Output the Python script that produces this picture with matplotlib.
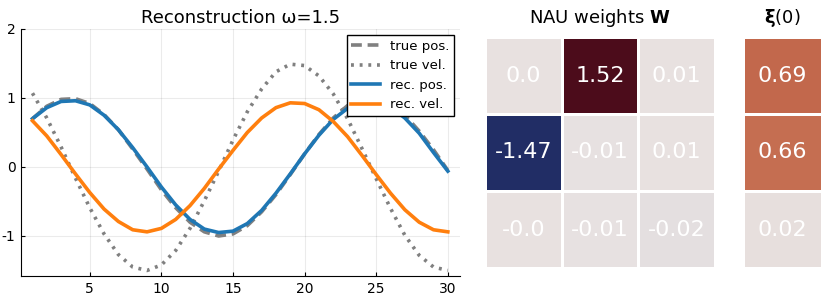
import matplotlib.pyplot as plt
import numpy as np
from matplotlib.colors import LinearSegmentedColormap, Normalize

plt.rcParams.update({"font.family": "DejaVu Sans", "font.size": 9, "axes.unicode_minus": False})

steps = list(range(1, 31))
true_pos = [0.70, 0.88, 0.98, 0.99, 0.92, 0.76, 0.54, 0.26, -0.03, -0.33,
            -0.59, -0.80, -0.94, -1.00, -0.97, -0.85, -0.65, -0.40, -0.11, 0.19,
            0.47, 0.71, 0.89, 0.98, 0.99, 0.91, 0.75, 0.52, 0.25, -0.05]
true_vel = [1.07, 0.71, 0.29, -0.16, -0.59, -0.97, -1.27, -1.45, -1.50, -1.42,
            -1.21, -0.89, -0.49, -0.06, 0.39, 0.80, 1.13, 1.38, 1.49, 1.47,
            1.32, 1.06, 0.70, 0.27, -0.17, -0.60, -0.99, -1.28, -1.45, -1.50]
rec_pos = [0.70, 0.86, 0.95, 0.96, 0.90, 0.75, 0.54, 0.28, 0.00, -0.29,
           -0.55, -0.76, -0.90, -0.95, -0.93, -0.82, -0.63, -0.38, -0.10, 0.19,
           0.46, 0.69, 0.85, 0.94, 0.95, 0.87, 0.71, 0.49, 0.21, -0.06]
rec_vel = [0.67, 0.45, 0.18, -0.10, -0.37, -0.61, -0.79, -0.91, -0.94, -0.89,
           -0.76, -0.56, -0.31, -0.03, 0.24, 0.50, 0.71, 0.86, 0.93, 0.92,
           0.83, 0.66, 0.44, 0.17, -0.11, -0.38, -0.62, -0.80, -0.91, -0.94]

W = [[0.0, 1.52, 0.01],
     [-1.47, -0.01, 0.01],
     [-0.0, -0.01, -0.02]]
W_labels = [["0.0", "1.52", "0.01"],
            ["-1.47", "-0.01", "0.01"],
            ["-0.0", "-0.01", "-0.02"]]
xi0 = [0.69, 0.66, 0.02]
xi0_labels = ["0.69", "0.66", "0.02"]

# rough stand-in for a "balance" diverging map
cmap = LinearSegmentedColormap.from_list(
    "balance",
    [(0.0, "#1f2960"), (0.25, "#3a62b0"), (0.5, "#e8e2e1"),
     (0.72, "#c56d4f"), (0.85, "#9a2a2a"), (1.0, "#4c0c1b")],
)
norm = Normalize(-1.52, 1.52)

fig = plt.figure(figsize=(8.3, 2.97), dpi=100)

ax = fig.add_axes([21 / 830, 1 - 276 / 297, 439 / 830, 247 / 297])
ax.plot(steps, true_pos, color="gray", linestyle=(0, (3, 1.6)), linewidth=2.6, label="true pos.")
ax.plot(steps, true_vel, color="gray", linestyle=(0, (0.8, 1.6)), linewidth=2.6, label="true vel.")
ax.plot(steps, rec_pos, color="#1f77b4", linewidth=2.6, label="rec. pos.")
ax.plot(steps, rec_vel, color="#ff7f0e", linewidth=2.6, label="rec. vel.")
ax.set_xlim(0.2, 30.85)
ax.set_ylim(-1.58, 2.0)
ax.set_xticks([5, 10, 15, 20, 25, 30])
ax.set_yticks([-1, 0, 1, 2])
ax.tick_params(direction="in", length=3, labelsize=10, pad=4)
ax.grid(color="black", alpha=0.08, linewidth=0.8)
ax.spines["top"].set_visible(False)
ax.spines["right"].set_visible(False)
ax.set_title("Reconstruction ω=1.5", fontsize=13, pad=4)
leg = ax.legend(loc="upper right", fontsize=9.5, fancybox=False, framealpha=1,
                edgecolor="black", borderpad=0.35, labelspacing=0.5,
                handlelength=2.2, handletextpad=0.75, borderaxespad=0.45)
leg.get_frame().set_linewidth(1.0)

axw = fig.add_axes([485 / 830, 1 - 268 / 297, 230 / 830, 231 / 297])
axw.pcolormesh(np.array(W), cmap=cmap, norm=norm, edgecolors="white", linewidth=2)
for i in range(3):
    for j in range(3):
        axw.text(j + 0.5, i + 0.5, W_labels[i][j], color="white", fontsize=16,
                 ha="center", va="center")
axw.set_ylim(3, 0)
axw.set_xlim(0, 3)
axw.axis("off")
axw.set_title(r"NAU weights $\mathbf{W}$", fontsize=13, pad=10)

axx = fig.add_axes([743 / 830, 1 - 268 / 297, 79 / 830, 231 / 297])
axx.pcolormesh(np.array(xi0).reshape(3, 1), cmap=cmap, norm=norm, edgecolors="white", linewidth=2)
for i in range(3):
    axx.text(0.5, i + 0.5, xi0_labels[i], color="white", fontsize=16,
             ha="center", va="center")
axx.set_ylim(3, 0)
axx.set_xlim(0, 1)
axx.axis("off")
axx.set_title(r"$\mathbf{ξ}$(0)", fontsize=13, pad=10)

fig.savefig("out.png", dpi=100)
